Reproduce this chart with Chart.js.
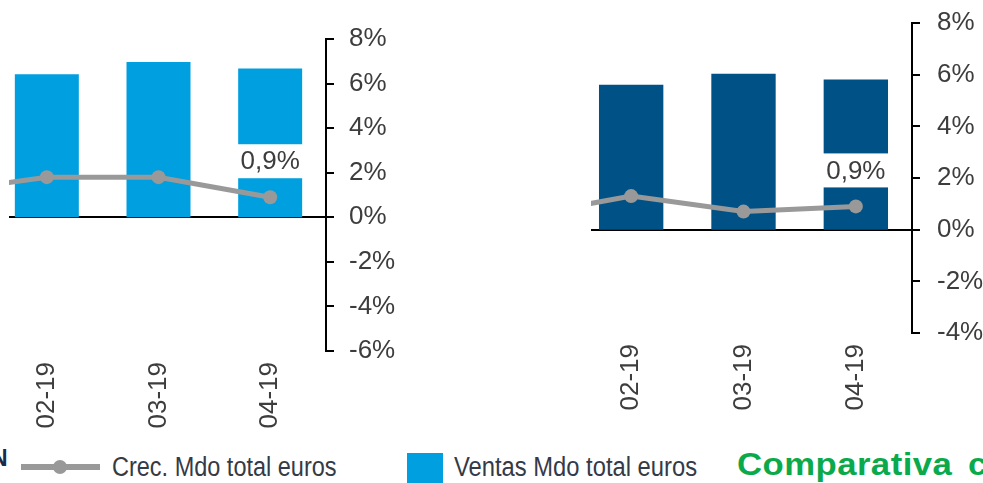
<!DOCTYPE html>
<html lang="es">
<head>
<meta charset="UTF-8">
<title>Crec. y Ventas Mdo total euros</title>
<script src="https://cdn.jsdelivr.net/npm/chart.js@4"></script>
<style>
  html, body { margin: 0; padding: 0; background: #fff; overflow: hidden; width: 983px; height: 483px; }
  .clip { position: absolute; overflow: hidden; top: 0; height: 440px; }
  .clip canvas { position: absolute; }
  .lg { position: absolute; white-space: nowrap; line-height: 1; font-family: "Liberation Sans", Arial, sans-serif; transform-origin: left top; }
</style>
</head>
<body>
<div class="clip" style="left:9px;width:420px"><canvas id="chartLeft" width="520" height="440" style="left:-109px;top:0"></canvas></div>
<div class="clip" style="left:591px;width:392px"><canvas id="chartRight" width="560" height="451" style="left:-111px;top:-11px"></canvas></div>

<!-- legend -->
<span class="lg" style="left:-9px;top:447px;font-size:23px;font-weight:bold;color:#1b2a4a">N</span>
<div style="position:absolute;left:21px;top:464px;width:79px;height:6px;background:#999"></div>
<div style="position:absolute;left:53px;top:460px;width:14px;height:14px;border-radius:50%;background:#999"></div>
<span class="lg" style="left:112px;top:454px;font-size:27px;color:#343a46;transform:scaleX(0.87)">Crec. Mdo total euros</span>
<div style="position:absolute;left:407px;top:453px;width:36px;height:30px;background:#009fdf"></div>
<span class="lg" style="left:454px;top:454px;font-size:27px;color:#343a46;transform:scaleX(0.88)">Ventas Mdo total euros</span>
<span class="lg" style="left:737px;top:449px;font-size:31px;font-weight:bold;color:#0aaa4c;letter-spacing:0.4px;transform:scaleX(1.12)">Comparativa</span>
<span class="lg" style="left:968px;top:449px;font-size:31px;font-weight:bold;color:#0aaa4c;transform:scaleX(1.12)">c</span>

<script>
// months; the first one sits left of the visible crop, only its line segment shows
const months = ['01-19', '02-19', '03-19', '04-19'];
const firstShown = '02-19';

// left panel
const crecLeft = [1.1, 1.8, 1.8, 0.9];       // %, right axis
const ventasLeft = [null, 6.42, 6.97, 6.68]; // hidden left axis
const pctTicksLeft = [-6, 8];

// right panel
const crecRight = [0.5, 1.3, 0.7, 0.9];
const ventasRight = [null, 5.61, 6.04, 5.81];
const pctTicksRight = [-4, 8];

const textColor = '#3d3d3d';
const fontFamily = '"Liberation Sans", Arial, sans-serif';

function fmtPct(v) {
    return v.toFixed(1).replace('.', ',') + '%';
}

// white box + value label above the last point of the line
const lastLabel = {
    id: 'lastLabel',
    afterDatasetsDraw(chart) {
        const meta = chart.getDatasetMeta(0);
        const idx = meta.data.length - 1;
        const pt = meta.data[idx];
        const value = chart.data.datasets[0].data[idx];
        const ctx = chart.ctx;
        const cy = pt.y - 36;
        ctx.save();
        ctx.fillStyle = '#fff';
        ctx.fillRect(pt.x - 42, cy - 17, 84, 34);
        ctx.fillStyle = textColor;
        ctx.font = '26px ' + fontFamily;
        ctx.textAlign = 'center';
        ctx.textBaseline = 'middle';
        ctx.fillText(fmtPct(value), pt.x, cy + 1);
        ctx.restore();
    }
};

function makeChart(id, crec, ventas, range, barColor, opts) {
    return new Chart(document.getElementById(id), {
        type: 'bar',
        data: {
            labels: months,
            datasets: [
                {
                    type: 'line',
                    label: 'Crec. Mdo total euros',
                    data: crec,
                    yAxisID: 'y',
                    borderColor: '#999',
                    backgroundColor: '#999',
                    borderWidth: 5,
                    pointRadius: 7,
                    pointBorderWidth: 0,
                    tension: 0,
                    order: 0
                },
                {
                    label: 'Ventas Mdo total euros',
                    data: ventas,
                    yAxisID: 'yBar',
                    backgroundColor: barColor,
                    categoryPercentage: 1,
                    barPercentage: 0.573,
                    order: 1
                }
            ]
        },
        options: {
            responsive: false,
            animation: false,
            devicePixelRatio: 1,
            layout: { padding: { left: opts.padLeft, top: opts.padTop, right: 0, bottom: 0 } },
            plugins: { legend: { display: false }, tooltip: { enabled: false } },
            scales: {
                x: {
                    min: firstShown,
                    offset: true,
                    grid: { display: false },
                    border: { display: false },
                    ticks: {
                        minRotation: 90,
                        maxRotation: 90,
                        padding: 3,
                        color: textColor,
                        font: { size: 26, family: fontFamily }
                    },
                    afterFit: s => { s.height = opts.xHeight; }
                },
                y: {
                    position: 'right',
                    min: range[0],
                    max: range[1],
                    ticks: {
                        stepSize: 2,
                        padding: opts.tickPad,
                        color: textColor,
                        font: { size: 26, family: fontFamily },
                        callback: v => v + '%'
                    },
                    grid: {
                        drawOnChartArea: true,
                        color: c => (c.tick && c.tick.value === 0 ? '#000' : 'rgba(0,0,0,0)'),
                        tickColor: '#000',
                        lineWidth: 2,
                        tickWidth: 2,
                        tickLength: 8
                    },
                    border: { display: true, color: '#000', width: 2 },
                    afterFit: s => { s.width = opts.yWidth; }
                },
                yBar: {
                    display: false,
                    min: range[0],
                    max: range[1]
                }
            }
        },
        plugins: [lastLabel]
    });
}

makeChart('chartLeft', crecLeft, ventasLeft, pctTicksLeft, '#009fdf',
    { padLeft: 91, padTop: 39, xHeight: 89, yWidth: 94, tickPad: 15 });
makeChart('chartRight', crecRight, ventasRight, pctTicksRight, '#005286',
    { padLeft: 95, padTop: 34, xHeight: 107, yWidth: 128, tickPad: 17 });
</script>
</body>
</html>
